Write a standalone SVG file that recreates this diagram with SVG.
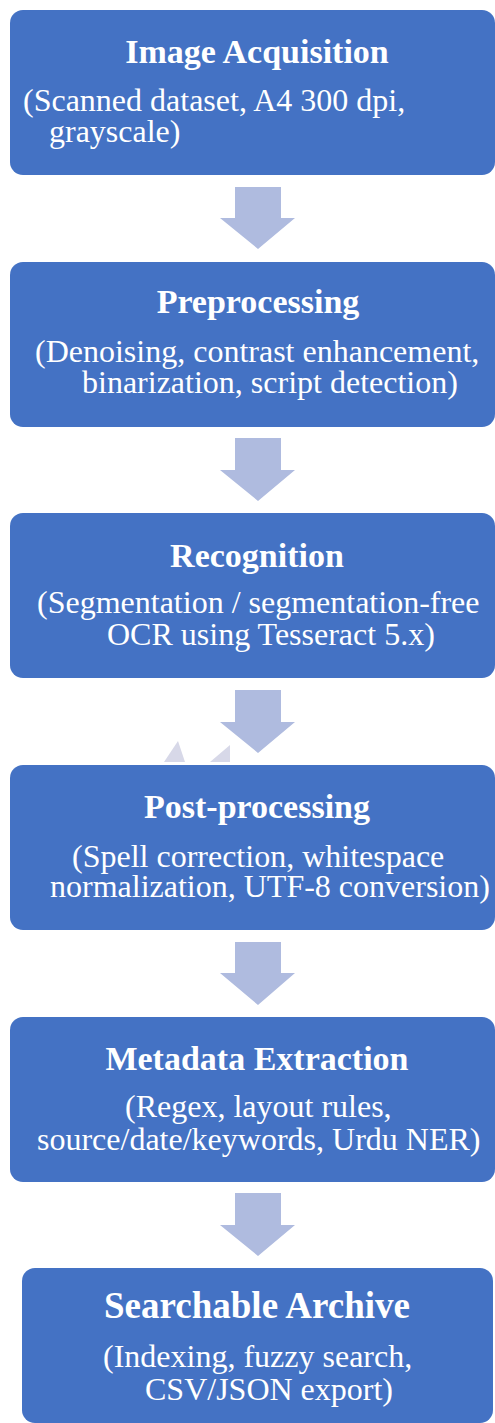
<svg xmlns="http://www.w3.org/2000/svg" width="495" height="1423" viewBox="0 0 495 1423">
<style>
.box{fill:#4472C4}
.arr{fill:#AFBBDF}
.t{font-family:"Liberation Serif","Times New Roman",serif;font-weight:bold;font-size:34px;fill:#fff;text-anchor:middle}
.s{font-family:"Liberation Serif","Times New Roman",serif;font-size:32px;fill:#fff}
.ghost{fill:#D7D8E8}
</style>
<rect width="495" height="1423" fill="#fff"/>
<g id="connectors">
<path class="arr" d="M235,187 H281 V218 H295 L258,249 L220,218 H235 Z"/>
<path class="arr" d="M235,438 H281 V470 H295 L258,501 L220,470 H235 Z"/>
<path class="arr" d="M235,690 H281 V722 H295 L258,753 L220,722 H235 Z"/>
<path class="arr" d="M235,942 H281 V973 H295 L258,1005 L220,973 H235 Z"/>
<path class="arr" d="M235,1193 H281 V1225 H295 L258,1256 L220,1225 H235 Z"/>
<path class="ghost" d="M178,741 L185,762 L164,762 Z"/>
<path class="ghost" d="M230,745 L230,762 L210,762 Z"/>
</g>
<g id="node1">
<rect class="box" x="10" y="10" width="485" height="165" rx="13"/>
<text class="t" x="257" y="63">Image Acquisition</text>
<text class="s" x="23" y="111">(Scanned dataset, A4 300 dpi,</text>
<text class="s" x="49" y="142">grayscale)</text>
</g>
<g id="node2">
<rect class="box" x="10" y="262" width="485" height="165" rx="13"/>
<text class="t" x="258" y="313">Preprocessing</text>
<text class="s" x="35" y="362">(Denoising, contrast enhancement,</text>
<text class="s" x="82" y="393">binarization, script detection)</text>
</g>
<g id="node3">
<rect class="box" x="10" y="513" width="485" height="165" rx="13"/>
<text class="t" x="257" y="567">Recognition</text>
<text class="s" x="37" y="613">(Segmentation / segmentation-free</text>
<text class="s" x="107" y="645">OCR using Tesseract 5.x)</text>
</g>
<g id="node4">
<rect class="box" x="10" y="765" width="485" height="165" rx="13"/>
<text class="t" x="257" y="818">Post-processing</text>
<text class="s" x="72" y="867">(Spell correction, whitespace</text>
<text class="s" x="50" y="897">normalization, UTF-8 conversion)</text>
</g>
<g id="node5">
<rect class="box" x="10" y="1017" width="485" height="165" rx="13"/>
<text class="t" x="257" y="1070">Metadata Extraction</text>
<text class="s" x="125" y="1117">(Regex, layout rules,</text>
<text class="s" x="37" y="1150">source/date/keywords, Urdu NER)</text>
</g>
<g id="node6">
<rect class="box" x="22" y="1268" width="471" height="155" rx="13"/>
<text class="t" x="257" y="1318" style="font-size:37px">Searchable Archive</text>
<text class="s" x="103" y="1367">(Indexing, fuzzy search,</text>
<text class="s" x="145" y="1400">CSV/JSON export)</text>
</g>
</svg>
